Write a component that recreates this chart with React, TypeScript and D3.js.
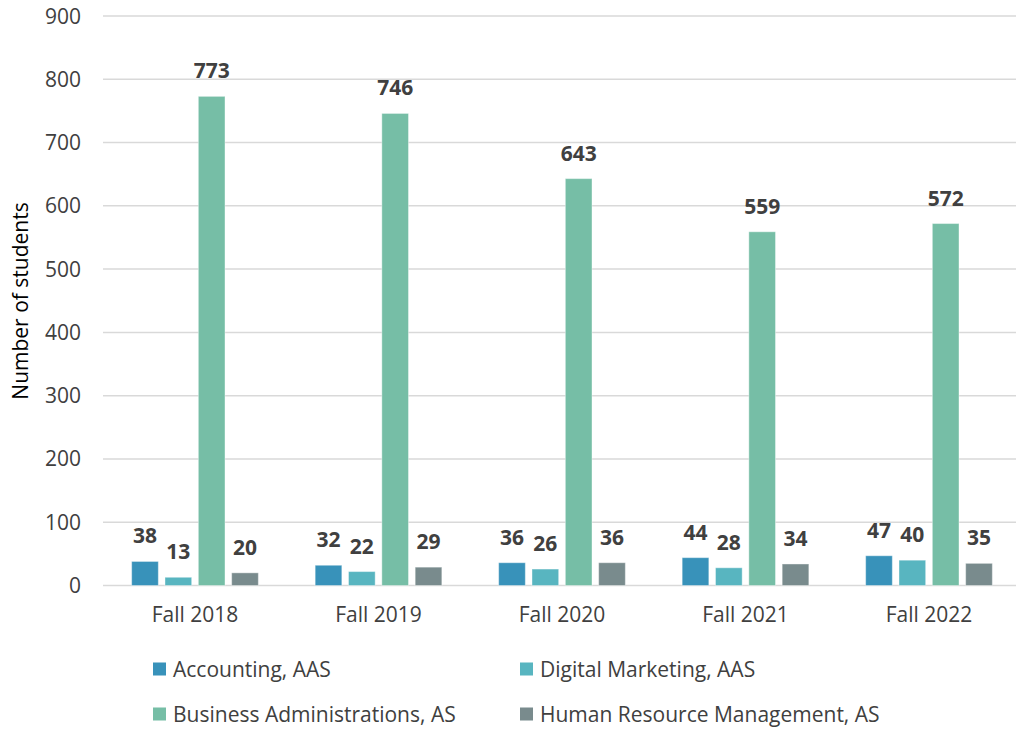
import React, { useEffect } from "react";
import * as d3 from "d3";

const categories = ["Fall 2018", "Fall 2019", "Fall 2020", "Fall 2021", "Fall 2022"];
const seriesNames = [
  "Accounting, AAS",
  "Digital Marketing, AAS",
  "Business Administrations, AS",
  "Human Resource Management, AS",
];
const accounting = [38, 32, 36, 44, 47];
const digitalMarketing = [13, 22, 26, 28, 40];
const businessAdmin = [773, 746, 643, 559, 572];
const humanResource = [20, 29, 36, 34, 35];
const seriesColors = ["#3892BA", "#58B5C0", "#76BEA6", "#798B8D"];
const yTicks = [0, 100, 200, 300, 400, 500, 600, 700, 800, 900];
const yTitle = "Number of students";

const W = 1016;
const H = 729;
const FONT = "'Open Sans', sans-serif";

export default function App() {
  useEffect(() => {
    document.body.style.margin = "0";
    document.body.style.overflow = "hidden";
  }, []);

  const seriesValues = [accounting, digitalMarketing, businessAdmin, humanResource];

  const y = d3.scaleLinear().domain([0, 900]).range([585.5, 16]);
  const x0 = d3
    .scaleBand<string>()
    .domain(categories)
    .range([103.25, 1020.75])
    .paddingInner(0.237)
    .paddingOuter(0.1185);
  const x1 = d3
    .scaleBand<string>()
    .domain(seriesNames)
    .range([0, x0.bandwidth()])
    .padding(0.2);

  const legendPos = [
    { x: 153, y: 669 },
    { x: 520, y: 669 },
    { x: 153, y: 714 },
    { x: 520, y: 714 },
  ];

  return (
    <svg width={W} height={H} style={{ display: "block", background: "#fff" }}>
      {yTicks.map((t) => (
        <g key={t}>
          <line x1={103} x2={W} y1={y(t)} y2={y(t)} stroke="#D9D9D9" strokeWidth={1.5} />
          <text
            x={81}
            y={y(t) + 7.5}
            textAnchor="end"
            fontFamily={FONT}
            fontSize={21}
            fill="#404040"
          >
            {t}
          </text>
        </g>
      ))}
      <text
        transform={`translate(28,301) rotate(-90)`}
        textAnchor="middle"
        fontFamily={FONT}
        fontSize={21}
        fill="#000"
      >
        {yTitle}
      </text>
      {categories.map((c, ci) => (
        <g key={c} transform={`translate(${x0(c)},0)`}>
          {seriesNames.map((s, si) => {
            const v = seriesValues[si][ci];
            const bx = x1(s)!;
            return (
              <g key={s}>
                <rect
                  x={bx}
                  y={y(v)}
                  width={x1.bandwidth()}
                  height={y(0) - y(v)}
                  fill={seriesColors[si]}
                  stroke="#ffffff"
                  strokeOpacity={0.4}
                  strokeWidth={1}
                />
                <text
                  x={bx + x1.bandwidth() / 2}
                  y={y(v) - 18}
                  textAnchor="middle"
                  fontFamily={FONT}
                  fontWeight="bold"
                  fontSize={21}
                  fill="#404040"
                >
                  {v}
                </text>
              </g>
            );
          })}
          <text
            x={x0.bandwidth() / 2}
            y={622}
            textAnchor="middle"
            fontFamily={FONT}
            fontSize={21}
            fill="#404040"
          >
            {c}
          </text>
        </g>
      ))}
      {seriesNames.map((s, si) => (
        <g key={s} transform={`translate(${legendPos[si].x},${legendPos[si].y})`}>
          <rect x={0} y={-6.5} width={13} height={13} fill={seriesColors[si]} />
          <text x={20} y={7.5} fontFamily={FONT} fontSize={21} fill="#404040">
            {s}
          </text>
        </g>
      ))}
    </svg>
  );
}
